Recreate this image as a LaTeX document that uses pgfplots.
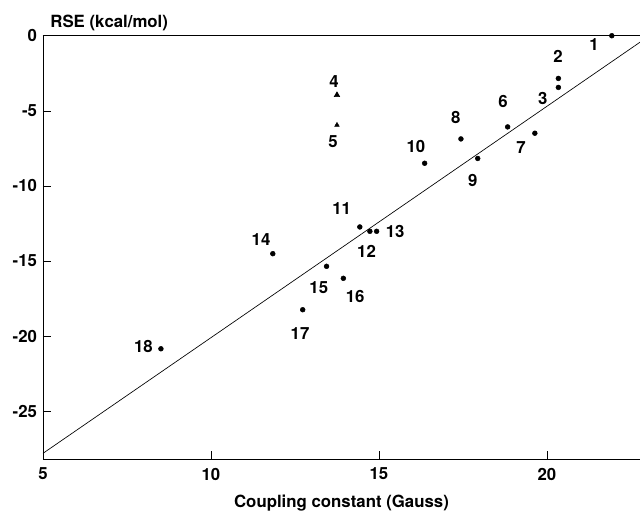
\documentclass[border=0pt]{standalone}
\usepackage{fontspec}
\setmainfont{TeX Gyre Heros}
\usepackage{pgfplots}
\pgfplotsset{compat=1.18}
\begin{document}
\begin{tikzpicture}
\begin{axis}[
  scale only axis,
  width=447.75pt, height=317.7pt,
  xmin=5, xmax=22.77,
  ymin=-28.2, ymax=0,
  axis x line=box, axis y line=left,
  axis line style={-, line width=0.7pt},
  xtick={5,10,15,20}, ytick={0,-5,-10,-15,-20,-25},
  xtick pos=bottom, ytick pos=left,
  tick align=inside, major tick length=6pt,
  tick style={black, line width=0.5pt},
  tick label style={font=\fontsize{12.6}{14}\selectfont\bfseries},
  /pgf/number format/assume math mode=true,
  xticklabel style={yshift=-3pt},
  yticklabel style={xshift=-1pt},
  clip=true,
]
\addplot[black, line width=0.5pt, no marks] coordinates {(5,-27.8) (23.05,0)};
\addplot[only marks, mark=*, mark size=1.8pt, black] coordinates {
(21.93,0) (20.34,-2.84) (20.34,-3.44) (18.83,-6.07) (19.64,-6.49)
(17.44,-6.87) (17.94,-8.17) (16.36,-8.49) (14.43,-12.73) (14.73,-13.02)
(14.93,-13.02) (11.84,-14.51) (13.44,-15.35) (13.94,-16.15) (12.73,-18.24)
(8.51,-20.84)};
\addplot[only marks, mark=triangle*, mark size=2.4pt, black] coordinates {(13.75,-3.95)};
\addplot[only marks, mark=triangle*, mark size=2.0pt, black] coordinates {(13.75,-5.95)};
\begin{scope}[every node/.style={font=\fontsize{12.6}{14}\selectfont\bfseries}]
\node at (axis cs:21.40,-0.62) {1};
\node at (axis cs:20.33,-1.35) {2};
\node at (axis cs:19.88,-4.15) {3};
\node at (axis cs:13.66,-3.07) {4};
\node at (axis cs:13.63,-7.07) {5};
\node at (axis cs:18.69,-4.35) {6};
\node at (axis cs:19.23,-7.42) {7};
\node at (axis cs:17.29,-5.42) {8};
\node at (axis cs:17.79,-9.62) {9};
\node at (axis cs:16.10,-7.40) {10};
\node at (axis cs:13.89,-11.51) {11};
\node at (axis cs:14.63,-14.33) {12};
\node at (axis cs:15.48,-13.02) {13};
\node at (axis cs:11.49,-13.55) {14};
\node at (axis cs:13.21,-16.80) {15};
\node at (axis cs:14.29,-17.33) {16};
\node at (axis cs:12.65,-19.80) {17};
\node at (axis cs:7.99,-20.67) {18};
\end{scope}
\coordinate (bl) at (rel axis cs:0,0);
\coordinate (tl) at (rel axis cs:0,1);
\coordinate (bm) at (rel axis cs:0.5,0);
\coordinate (tr) at (rel axis cs:1,1);
\end{axis}
\node[anchor=base west, font=\fontsize{12.6}{14}\selectfont\bfseries] at ([shift={(2pt,5.8pt)}]tl) {RSE (kcal/mol)};
\node[anchor=base, font=\fontsize{12.6}{14}\selectfont\bfseries] at ([yshift=-36.3pt]bm) {Coupling constant (Gauss)};
\pgfresetboundingbox
\path ([shift={(-32.25pt,-41pt)}]bl) rectangle ([shift={(0pt,26.8pt)}]tr);
\end{tikzpicture}
\end{document}
